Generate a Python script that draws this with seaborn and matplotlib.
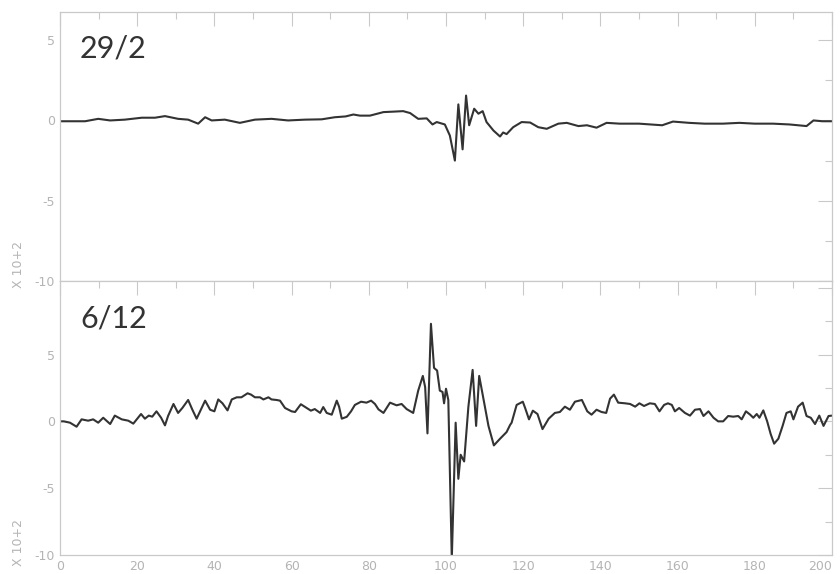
# Dos trazas apiladas (29/2 y 6/12), eje y en unidades x10^2

import matplotlib
matplotlib.use("Agg")
import matplotlib.pyplot as plt
from matplotlib.ticker import MultipleLocator
import pandas as pd
import seaborn as sns

# Traza superior: 29/2
x_29_2 = [0, 3, 6.5, 9.9, 13, 16.8, 21.2, 24.6, 27.2, 30.6, 33.2, 35.8, 37.6, 39.3,
          42.7, 46.6, 50.5, 54.8, 59.1, 63.5, 67.8, 71.2, 74, 76, 77.7, 80.3, 83.8,
          86.5, 88.9, 90.7, 92.8, 95, 96.5, 97.6, 99.7, 101, 102.3, 103.2, 104.3,
          105.2, 106, 107.3, 108.4, 109.5, 110.5, 112.3, 114, 114.8, 115.7, 117.4,
          119.6, 121.8, 123.9, 126.1, 129.1, 131.3, 134.3, 136.5, 139, 141.6, 145,
          150, 153, 156, 158.8, 163, 167, 171.7, 176, 180, 184.7, 189, 193.4, 195.2,
          197.5, 200]
y_29_2 = [-0.05, -0.05, -0.05, 0.1, 0.0, 0.05, 0.17, 0.17, 0.27, 0.1, 0.05, -0.2, 0.2, 0.0,
          0.05, -0.15, 0.05, 0.1, 0.0, 0.05, 0.07, 0.2, 0.25, 0.37, 0.3, 0.3, 0.52,
          0.55, 0.58, 0.46, 0.1, 0.13, -0.25, -0.1, -0.25, -0.94, -2.5, 1.0, -1.8,
          1.55, -0.3, 0.73, 0.42, 0.58, -0.1, -0.63, -1.0, -0.75, -0.85, -0.42,
          -0.1, -0.13, -0.42, -0.52, -0.2, -0.15, -0.35, -0.3, -0.45, -0.15, -0.2,
          -0.2, -0.25, -0.3, -0.07, -0.15, -0.2, -0.2, -0.15, -0.2, -0.2, -0.25, -0.35, 0.0,
          -0.05, -0.05]

# Traza inferior: 6/12
x_6_12 = [0, 1, 2.6, 4.3, 5.6, 7.3, 8.6, 9.9, 11.2, 13, 14.2, 16, 17.7, 19, 21, 22, 23,
          23.9, 25, 26.2, 27.2, 28, 29.4, 30.6, 31.7, 33.2, 34.3, 35.4, 36.5, 37.6,
          38.9, 40, 41, 42.1, 43.4, 44.5, 45.8, 47, 48.6, 49.5, 50.5, 51.8, 52.7, 54,
          54.8, 56.1, 57, 58.3, 60, 60.9, 62.4, 63.9, 65, 66, 67.4, 68.2, 69.1, 70.4,
          71.7, 72.3, 73, 74.3, 75.4, 76.4, 78, 79.4, 80.6, 81.6, 82.5, 83.8, 85.5,
          87.2, 88.5, 89.8, 91.5, 92.8, 94, 94.6, 95.2, 96.1, 96.9, 97.7, 98.4, 99.1,
          99.5, 100, 100.6, 101.5, 102.5, 103.2, 103.8, 104.7, 105.8, 106.9, 107.8,
          108.6, 109.7, 111, 112.4, 114, 115.7, 116.6, 117, 118.3, 119.9, 120.5,
          121.5, 122.5, 123.7, 125, 126.6, 128.2, 129.5, 130.8, 132.1, 133.4, 135.2,
          136.6, 137.7, 139, 140.3, 141.5, 142.5, 143.5, 144.6, 146.4, 147.7, 149,
          150.1, 151.3, 152.8, 154.1, 155.3, 156.5, 157.5, 158.5, 159.3, 160.4, 161.9,
          163.2, 164.5, 165.8, 166.7, 168, 169.3, 170.5, 171.8, 173.1, 174.4, 175.7,
          176.6, 177.7, 178.8, 179.6, 180.5, 181.2, 182.2, 183.2, 184.1, 185, 186.1,
          187.2, 188.2, 189.3, 190, 191.2, 192.4, 193.4, 194.5, 195.6, 196.7, 197.8,
          199.1, 200]
y_6_12 = [0.0, 0.0, -0.1, -0.4, 0.15, 0.05, 0.15, -0.1, 0.27, -0.2, 0.43, 0.15, 0.05, -0.17,
          0.55, 0.2, 0.43, 0.35, 0.75, 0.27, -0.3, 0.4, 1.3, 0.63, 1.0, 1.6, 0.87, 0.2,
          0.87, 1.55, 0.87, 0.75, 1.64, 1.35, 0.82, 1.64, 1.8, 1.8, 2.1, 2.0, 1.8, 1.8,
          1.64, 1.8, 1.64, 1.6, 1.55, 1.0, 0.75, 0.7, 1.28, 1.0, 0.8, 0.92, 0.63, 1.07,
          0.63, 0.5, 1.55, 1.1, 0.2, 0.34, 0.75, 1.23, 1.47, 1.4, 1.55, 1.3, 0.9, 0.63,
          1.4, 1.2, 1.3, 0.92, 0.63, 2.3, 3.4, 2.56, -0.9, 7.3, 4.0, 3.8, 2.3, 2.2,
          1.35, 2.44, 1.6, -10.3, -0.1, -4.3, -2.5, -3.0, 1.1, 3.85, -0.34, 3.4, 1.7,
          -0.34, -1.8, -1.3, -0.8, -0.27, -0.1, 1.23, 1.47, 1.0, 0.15, 0.8, 0.55,
          -0.58, 0.2, 0.63, 0.7, 1.1, 0.87, 1.47, 1.6, 0.75, 0.5, 0.87, 0.7, 0.63, 1.7,
          2.0, 1.4, 1.35, 1.3, 1.1, 1.35, 1.15, 1.35, 1.3, 0.75, 1.23, 1.35, 1.23, 0.75,
          1.0, 0.63, 0.43, 0.87, 0.92, 0.4, 0.75, 0.27, 0.0, 0.0, 0.4, 0.35, 0.4, 0.15,
          0.75, 0.5, 0.27, 0.55, 0.27, 0.82, 0.0, -0.94, -1.67, -1.3, -0.34, 0.63, 0.75,
          0.15, 1.1, 1.4, 0.4, 0.27, -0.2, 0.43, -0.34, 0.4, 0.43]

etiquetas = ["29/2", "6/12"]
x_ticks = [0, 20, 40, 60, 80, 100, 120, 140, 160, 180, 200]

sns.set_style("white")
plt.rcParams["font.family"] = ["DejaVu Sans"]
plt.rcParams["axes.unicode_minus"] = False

gris_eje = "#c9c9c9"
gris_texto = "#b4b4b4"

fig, (ax1, ax2) = plt.subplots(2, 1, figsize=(8.4, 5.74), dpi=100, sharex=True,
                               gridspec_kw=dict(hspace=0, height_ratios=[269, 274]))
fig.subplots_adjust(left=0.0714, right=0.9905, top=0.979, bottom=0.0331)

datos = [pd.DataFrame({"x": x_29_2, "y": y_29_2}),
         pd.DataFrame({"x": x_6_12, "y": y_6_12})]
limites = [(-10, 6.75), (-10, 10.5)]

for ax, df, lim, etiqueta in zip([ax1, ax2], datos, limites, etiquetas):
    sns.lineplot(data=df, x="x", y="y", ax=ax, color="#333333", linewidth=1.5,
                 estimator=None, sort=False)
    ax.set_xlim(0, 200)
    ax.set_ylim(*lim)
    ax.set_xlabel("")
    ax.set_ylabel("")
    ax.xaxis.set_major_locator(MultipleLocator(20))
    ax.xaxis.set_minor_locator(MultipleLocator(10))
    ax.yaxis.set_major_locator(MultipleLocator(5))
    ax.yaxis.set_minor_locator(MultipleLocator(2.5))
    ax.tick_params(which="both", direction="in", top=True, right=True,
                   color=gris_eje, labelcolor=gris_texto, labelsize=9, width=0.8)
    ax.tick_params(which="major", length=10)
    ax.tick_params(which="minor", length=5)
    for s in ax.spines.values():
        s.set_color(gris_eje)
        s.set_linewidth(0.9)
    ax.text(0.026, 0.83, etiqueta, transform=ax.transAxes, fontsize=22,
            color="#333333", family="Lato", va="baseline", ha="left")

ax1.tick_params(labelbottom=False)
ax2.set_yticks([-10, -5, 0, 5, 10])
ax2.set_yticklabels(["-10", "-5", "0", "5", ""])
ax2.set_ylim(-10, 10.5)
ax2.set_xticks(x_ticks)
ax2.set_xticklabels([str(t) for t in x_ticks])
# la última etiqueta queda pegada al borde derecho
ax2.get_xticklabels()[-1].set_horizontalalignment("right")

# Etiqueta de escala a la izquierda
fig.text(18 / 840, 1 - 288 / 574, "X 10+2", rotation=90, va="bottom", ha="center",
         fontsize=9, color=gris_texto)
fig.text(18 / 840, 1 - 566 / 574, "X 10+2", rotation=90, va="bottom", ha="center",
         fontsize=9, color=gris_texto)

fig.savefig("out.png", dpi=100)
